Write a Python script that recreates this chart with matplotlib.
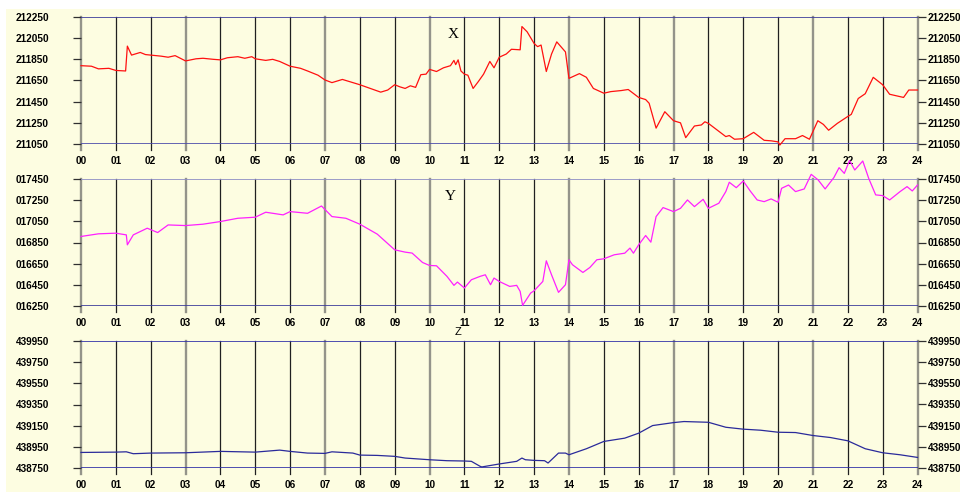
import matplotlib
matplotlib.use("Agg")
import matplotlib.pyplot as plt
from matplotlib.patches import Rectangle

plt.rcParams['font.family'] = ['Liberation Sans', 'DejaVu Sans']

# heures
hours = list(range(25))
hour_labels = ['%02d' % h for h in hours]

# composante X
x_h = [0, 0.3, 0.5, 0.8, 1.0, 1.28, 1.33, 1.45, 1.7, 1.85, 2.0, 2.3, 2.5, 2.7, 2.85,
       3.0, 3.3, 3.5, 3.8, 4.0, 4.2, 4.5, 4.7, 4.9, 5.0, 5.3, 5.5, 5.7, 6.0, 6.3,
       6.5, 6.8, 7.0, 7.2, 7.5, 7.8, 8.0, 8.3, 8.6, 8.8, 9.0, 9.15, 9.3, 9.45, 9.6,
       9.75, 9.9, 10.0, 10.2, 10.4, 10.6, 10.7, 10.75, 10.82, 10.9, 11.0, 11.1,
       11.25, 11.4, 11.55, 11.73, 11.85, 12.0, 12.2, 12.35, 12.6, 12.65, 12.8,
       13.0, 13.1, 13.2, 13.35, 13.5, 13.65, 13.9, 14.0, 14.3, 14.5, 14.7, 15.0,
       15.2, 15.5, 15.7, 16.0, 16.2, 16.3, 16.5, 16.75, 17.0, 17.2, 17.35, 17.6,
       17.8, 17.9, 18.0, 18.3, 18.5, 18.6, 18.75, 19.0, 19.3, 19.6, 19.8, 20.0,
       20.05, 20.2, 20.5, 20.7, 20.9, 21.14, 21.3, 21.45, 21.7, 22.0, 22.1, 22.3,
       22.5, 22.73, 23.0, 23.2, 23.6, 23.75, 24.0]
x_v = [211790, 211785, 211760, 211765, 211745, 211740, 211975, 211890, 211915,
       211895, 211890, 211880, 211870, 211885, 211860, 211835, 211855, 211860,
       211850, 211845, 211865, 211875, 211860, 211875, 211855, 211840, 211850,
       211830, 211785, 211765, 211740, 211700, 211655, 211630, 211660, 211630,
       211610, 211575, 211540, 211560, 211610, 211590, 211575, 211600, 211585,
       211705, 211710, 211755, 211735, 211770, 211790, 211840, 211800, 211845,
       211740, 211710, 211700, 211575, 211640, 211710, 211830, 211770, 211870,
       211900, 211945, 211940, 212160, 212110, 212000, 211970, 211985, 211735,
       211900, 212015, 211920, 211670, 211715, 211680, 211575, 211530, 211545,
       211555, 211565, 211490, 211470, 211435, 211200, 211355, 211270, 211250,
       211110, 211220, 211230, 211260, 211245, 211170, 211120, 211130, 211095,
       211100, 211160, 211085, 211080, 211070, 211040, 211100, 211100, 211130,
       211095, 211270, 211235, 211180, 211245, 211310, 211330, 211480, 211525,
       211680, 211610, 211520, 211490, 211560, 211560]

# composante Y
y_h = [0, 0.5, 1.0, 1.3, 1.33, 1.5, 1.9, 2.2, 2.5, 3.0, 3.5, 4.0, 4.5, 5.0, 5.3,
       5.8, 6.0, 6.5, 6.9, 7.2, 7.6, 8.0, 8.5, 9.0, 9.3, 9.5, 9.8, 10.0, 10.2,
       10.5, 10.7, 10.8, 11.0, 11.2, 11.45, 11.6, 11.75, 11.85, 12.0, 12.3, 12.5,
       12.6, 12.67, 12.9, 13.0, 13.25, 13.35, 13.5, 13.7, 13.9, 14.0, 14.1, 14.4,
       14.6, 14.8, 15.0, 15.3, 15.6, 15.75, 15.85, 16.0, 16.2, 16.35, 16.5, 16.7,
       17.0, 17.2, 17.4, 17.6, 17.85, 18.0, 18.3, 18.5, 18.6, 18.8, 19.0, 19.2,
       19.4, 19.6, 19.8, 20.0, 20.1, 20.3, 20.5, 20.75, 20.95, 21.15, 21.35, 21.6,
       21.75, 21.9, 22.05, 22.2, 22.43, 22.6, 22.8, 23.0, 23.2, 23.5, 23.7, 23.85,
       24.0]
y_v = [16907, 16932, 16938, 16922, 16828, 16922, 16985, 16944, 17016, 17010,
       17023, 17048, 17079, 17089, 17136, 17111, 17142, 17126, 17195, 17095,
       17079, 17023, 16929, 16781, 16759, 16750, 16661, 16633, 16630, 16530,
       16445, 16476, 16420, 16498, 16530, 16545, 16451, 16514, 16482, 16435,
       16445, 16388, 16256, 16372, 16394, 16482, 16677, 16545, 16379, 16451,
       16687, 16640, 16567, 16614, 16687, 16696, 16734, 16749, 16797, 16749,
       16828, 16916, 16853, 17095, 17180, 17142, 17173, 17252, 17189, 17258,
       17173, 17221, 17331, 17419, 17368, 17431, 17337, 17252, 17236, 17262,
       17230, 17362, 17393, 17331, 17356, 17494, 17441, 17356, 17463, 17557,
       17503, 17625, 17535, 17620, 17456, 17300, 17293, 17252, 17331, 17378,
       17337, 17393]

# composante Z
z_h = [0, 1.0, 1.3, 1.5, 2.0, 3.0, 4.0, 5.0, 5.7, 6.0, 6.5, 7.0, 7.2, 7.8, 8.0,
       8.5, 9.0, 9.3, 10.0, 10.5, 11.0, 11.2, 11.45, 11.5, 12.0, 12.5, 12.65,
       12.75, 13.0, 13.3, 13.4, 13.7, 13.9, 14.0, 14.5, 15.0, 15.6, 16.0, 16.4,
       17.0, 17.3, 18.0, 18.5, 19.0, 19.5, 20.0, 20.5, 21.0, 21.5, 22.0, 22.5,
       23.0, 23.5, 24.0]
z_v = [438897, 438900, 438903, 438885, 438891, 438894, 438907, 438900, 438919,
       438907, 438891, 438888, 438903, 438891, 438872, 438869, 438860, 438844,
       438828, 438819, 438816, 438813, 438766, 438760, 438788, 438813, 438844,
       438828, 438822, 438819, 438797, 438891, 438891, 438875, 438932, 439001,
       439032, 439079, 439151, 439179, 439189, 439182, 439135, 439117, 439107,
       439088, 439085, 439057, 439038, 439007, 438932, 438894, 438875, 438850]

x_ticks = [211050, 211250, 211450, 211650, 211850, 212050, 212250]
y_ticks = [16250, 16450, 16650, 16850, 17050, 17250, 17450]
z_ticks = [438750, 438950, 439150, 439350, 439550, 439750, 439950]

W, H = 960, 492
bg = '#fdfde1'
fig = plt.figure(figsize=(W / 100, H / 100), dpi=100)
fig.patch.set_facecolor('white')
fig.patches.append(Rectangle((6 / W, 0), 1, 1 - 9 / H, transform=fig.transFigure,
                             facecolor=bg, edgecolor='none', zorder=-10))

x0, x1 = 81, 917.5
# gris = lignes "epaisses" du rendu d'origine
gray_hours = [0, 3, 7, 10, 14, 17, 21, 24]
fs = 7.2


def panneau(top, bottom, h, v, ticks, color, name, name_pos, name_font, topcol, botcol):
    ax = fig.add_axes([x0 / W, 1 - bottom / H, (x1 - x0) / W, (bottom - top) / H])
    ax.set_facecolor('none')
    lo, hi = ticks[0], ticks[-1]
    ax.set_xlim(0, 24)
    ax.set_ylim(lo, hi)
    for s in ax.spines.values():
        s.set_visible(False)
    ext = (hi - lo) * 6 / (bottom - top)
    for hh in hours:
        if hh in gray_hours:
            ax.plot([hh, hh], [lo - ext, hi], color='#94948a', lw=1.7, clip_on=False, zorder=1)
        else:
            ax.plot([hh, hh], [lo - ext, hi], color='#202020', lw=0.9, clip_on=False, zorder=1)
    ax.axhline(hi, color=topcol, lw=1.2, zorder=2)
    ax.axhline(lo, color=botcol, lw=1.2, zorder=2)
    ax.plot(h, v, color=color, lw=0.9, clip_on=False, zorder=3)

    ax.set_xticks(hours)
    ax.set_xticklabels(hour_labels, fontsize=fs, fontweight='bold')
    ax.tick_params(axis='x', length=0, pad=8.5)
    ax.set_yticks(ticks)
    ax.set_yticklabels(['%06d' % t for t in ticks], fontsize=fs, fontweight='bold')
    ax.tick_params(axis='y', length=6, width=0.9, color='#303030', pad=17)
    ax2 = ax.twinx()
    ax2.set_ylim(lo, hi)
    for s in ax2.spines.values():
        s.set_visible(False)
    ax2.set_yticks(ticks)
    ax2.set_yticklabels(['%06d' % t for t in ticks], fontsize=fs, fontweight='bold')
    ax2.tick_params(axis='y', length=6, width=0.9, color='#303030', pad=1.5)
    ax2.patch.set_visible(False)
    fig.text(name_pos[0] / W, 1 - name_pos[1] / H, name, ha='center', va='center', **name_font)
    return ax


serif = {'family': 'Liberation Serif', 'fontsize': 11}
panneau(17, 144, x_h, x_v, x_ticks, '#ff1010', 'X', (453, 34), serif, '#3a3a9a', '#4a4aaa')
panneau(179, 306, y_h, y_v, y_ticks, '#ff20ff', 'Y', (450, 196), serif, '#8c8cc4', '#3a3a9a')
panneau(341, 468, z_h, z_v, z_ticks, '#2a2a9a', 'Z', (458, 332),
        {'family': 'Liberation Sans', 'fontsize': 8}, '#3030a8', '#3030a8')

fig.savefig('out.png', dpi=100, facecolor=fig.get_facecolor())
